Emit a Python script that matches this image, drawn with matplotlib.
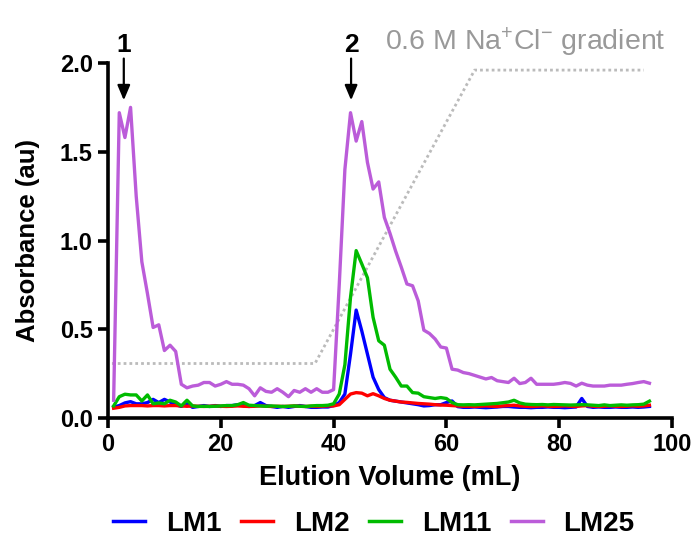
import numpy as np
import matplotlib
matplotlib.use("Agg")
import matplotlib.pyplot as plt

plt.rcParams['font.family'] = ['Liberation Sans', 'DejaVu Sans']
plt.rcParams['mathtext.default'] = 'regular'

volume = list(range(1, 97))

lm1 = [0.062, 0.07, 0.085, 0.092, 0.08, 0.08, 0.087, 0.105, 0.087, 0.105,
       0.09, 0.075, 0.065, 0.08, 0.06, 0.065, 0.07, 0.065, 0.07, 0.065,
       0.07, 0.07, 0.075, 0.07, 0.065, 0.07, 0.087, 0.07, 0.065, 0.06,
       0.065, 0.06, 0.065, 0.07, 0.065, 0.06, 0.06, 0.062, 0.062, 0.07,
       0.087, 0.135, 0.36, 0.608, 0.49, 0.36, 0.23, 0.16, 0.115, 0.10,
       0.095, 0.09, 0.085, 0.08, 0.075, 0.068, 0.07, 0.075, 0.075, 0.087,
       0.096, 0.064, 0.06, 0.06, 0.062, 0.06, 0.058, 0.06, 0.062, 0.065,
       0.065, 0.062, 0.06, 0.06, 0.058, 0.06, 0.06, 0.062, 0.06, 0.06,
       0.058, 0.06, 0.062, 0.11, 0.065, 0.06, 0.062, 0.06, 0.06, 0.062,
       0.06, 0.06, 0.062, 0.06, 0.062, 0.065]

lm2 = [0.055, 0.06, 0.068, 0.07, 0.07, 0.07, 0.068, 0.07, 0.07, 0.068,
       0.07, 0.07, 0.068, 0.066, 0.068, 0.066, 0.065, 0.066, 0.068, 0.066,
       0.065, 0.066, 0.068, 0.066, 0.065, 0.066, 0.068, 0.066, 0.065, 0.066,
       0.065, 0.066, 0.068, 0.066, 0.065, 0.066, 0.065, 0.066, 0.068, 0.068,
       0.075, 0.105, 0.135, 0.143, 0.14, 0.125, 0.137, 0.125, 0.11, 0.10,
       0.095, 0.09, 0.088, 0.085, 0.082, 0.08, 0.078, 0.075, 0.073, 0.072,
       0.07, 0.068, 0.066, 0.066, 0.065, 0.066, 0.068, 0.066, 0.065, 0.068,
       0.07, 0.072, 0.068, 0.066, 0.065, 0.066, 0.068, 0.066, 0.065, 0.066,
       0.068, 0.066, 0.065, 0.068, 0.07, 0.066, 0.065, 0.066, 0.068, 0.066,
       0.065, 0.066, 0.068, 0.066, 0.068, 0.072]

lm11 = [0.068, 0.12, 0.134, 0.13, 0.13, 0.096, 0.13, 0.08, 0.085, 0.08,
        0.10, 0.09, 0.068, 0.10, 0.068, 0.065, 0.066, 0.065, 0.066, 0.068,
        0.07, 0.07, 0.075, 0.087, 0.072, 0.07, 0.068, 0.066, 0.068, 0.066,
        0.065, 0.066, 0.068, 0.066, 0.065, 0.068, 0.07, 0.07, 0.072, 0.08,
        0.135, 0.30, 0.68, 0.943, 0.868, 0.79, 0.567, 0.435, 0.41, 0.275,
        0.23, 0.18, 0.18, 0.143, 0.14, 0.12, 0.115, 0.11, 0.115, 0.11,
        0.087, 0.075, 0.074, 0.075, 0.074, 0.076, 0.078, 0.08, 0.082, 0.086,
        0.09, 0.10, 0.085, 0.078, 0.076, 0.075, 0.076, 0.074, 0.076, 0.075,
        0.074, 0.073, 0.074, 0.075, 0.074, 0.072, 0.07, 0.074, 0.07, 0.072,
        0.074, 0.072, 0.074, 0.075, 0.078, 0.095]

lm25 = [0.10, 1.72, 1.58, 1.75, 1.25, 0.88, 0.70, 0.51, 0.525, 0.38,
        0.41, 0.375, 0.19, 0.17, 0.18, 0.185, 0.20, 0.20, 0.18, 0.19,
        0.205, 0.19, 0.19, 0.185, 0.165, 0.125, 0.17, 0.15, 0.145, 0.165,
        0.145, 0.12, 0.155, 0.145, 0.165, 0.145, 0.165, 0.145, 0.145, 0.16,
        0.75, 1.40, 1.72, 1.56, 1.67, 1.44, 1.29, 1.33, 1.13, 1.04,
        0.94, 0.85, 0.755, 0.745, 0.66, 0.495, 0.476, 0.445, 0.40, 0.394,
        0.275, 0.27, 0.256, 0.25, 0.24, 0.23, 0.22, 0.228, 0.21, 0.205,
        0.20, 0.224, 0.194, 0.20, 0.224, 0.19, 0.19, 0.19, 0.19, 0.194,
        0.20, 0.195, 0.18, 0.196, 0.185, 0.18, 0.18, 0.18, 0.185, 0.185,
        0.185, 0.19, 0.194, 0.20, 0.205, 0.196]

gradient_x = [0.7, 36.7, 65.0, 95.0]
gradient_y = [0.307, 0.307, 1.96, 1.96]

series_names = ['LM1', 'LM2', 'LM11', 'LM25']
series_colors = ['#0000FF', '#FF0000', '#00BB00', '#BB5CD9']
peak_labels = ['1', '2']
peak_x = [2.8, 43.1]

fig = plt.figure(figsize=(6.95, 5.38), dpi=100)
ax = fig.add_axes([108/695, 1-418/538, (672-108)/695, (418-63)/538])

ax.plot(gradient_x, gradient_y, color='#BBBBBB', lw=2.0, ls=(0, (1, 1.1)), zorder=1)

for name, vals, col in zip(series_names, [lm1, lm2, lm11, lm25], series_colors):
    ax.plot(volume, vals, color=col, lw=2.4, label=name, zorder=2)

ax.set_xlim(0, 100)
ax.set_ylim(0, 2.0)
ax.set_xticks([0, 20, 40, 60, 80, 100])
ax.set_yticks([0, 0.5, 1.0, 1.5, 2.0])
ax.set_yticklabels(['0.0', '0.5', '1.0', '1.5', '2.0'])
for s in ['top', 'right']:
    ax.spines[s].set_visible(False)
for s in ['left', 'bottom']:
    ax.spines[s].set_linewidth(2.6)
ax.tick_params(axis='both', width=2.6, length=7, labelsize=17, pad=4)
for lab in ax.get_xticklabels() + ax.get_yticklabels():
    lab.set_fontweight('bold')

ax.set_xlabel('Elution Volume (mL)', fontsize=19.5, fontweight='bold', labelpad=6)
ax.set_ylabel('Absorbance (au)', fontsize=18.5, fontweight='bold', labelpad=14)

for lbl, px in zip(peak_labels, peak_x):
    ax.annotate('', xy=(px, 1.79), xytext=(px, 2.025), annotation_clip=False,
                arrowprops=dict(arrowstyle='-|>,head_length=0.9,head_width=0.38',
                                color='black', lw=1.6, shrinkA=0, shrinkB=0))
    ax.text(px, 2.06, lbl, ha='center', va='baseline', fontsize=19,
            fontweight='bold', clip_on=False)

fig.text(385/695, 1-50/538, '0.6 M Na$^{+}$Cl$^{-}$ gradient', color='#999999',
         fontsize=20.5, ha='left', va='baseline')

leg = fig.legend(loc='center', bbox_to_anchor=(374/695, 1-524/538), ncol=4,
                 frameon=False, prop={'weight': 'bold', 'size': 20},
                 handlelength=1.15, handletextpad=0.75, columnspacing=0.7)
for line in leg.get_lines():
    line.set_linewidth(2.5)

fig.savefig('out.png', dpi=100)
